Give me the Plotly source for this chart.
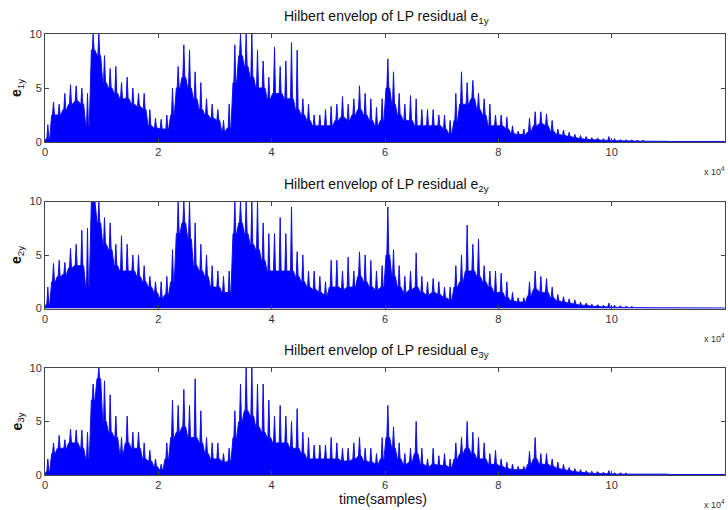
import plotly.graph_objects as go

# 1000-sample bins
bin_size = 1000
n_bins = 120
bin_centers = [i * bin_size + bin_size / 2 for i in range(n_bins)]

# ---- e1y ----
e1_peak = [1.6, 3.7, 3.5, 4.5, 5.3, 5.2, 5.0, 4.5, 10, 10,
           8.0, 6.8, 7.0, 5.5, 6.0, 5.0, 4.5, 4.5, 3.0, 2.2,
           2.1, 2.5, 5.0, 7.0, 9.0, 8.5, 6.5, 5.5, 4.0, 3.5,
           3.0, 2.0, 3.5, 9.0, 10, 10, 10, 8.5, 7.5, 6.0,
           8.8, 7.0, 7.5, 9.2, 8.5, 4.0, 3.5, 2.5, 2.5, 3.0,
           3.3, 3.5, 4.2, 3.5, 4.0, 5.2, 4.5, 4.0, 3.2, 4.0,
           7.7, 6.5, 4.5, 3.5, 4.3, 4.0, 3.0, 3.0, 3.0, 2.5,
           2.5, 2.0, 4.5, 6.5, 5.5, 5.7, 4.5, 4.0, 3.5, 2.5,
           2.5, 2.3, 1.5, 1.0, 1.2, 2.2, 2.8, 2.8, 2.6, 2.0,
           1.2, 1.1, 0.9, 0.7, 0.6, 0.5, 0.4, 0.35, 0.3, 0.5,
           0.3, 0.2, 0.2, 0.18, 0.15, 0.15, 0.12, 0.12, 0.1, 0.1,
           0.1, 0.1, 0.1, 0.1, 0.1, 0.08, 0.08, 0.08, 0.08, 0.08]
e1_body = [0.3, 2.5, 2.5, 3.0, 3.5, 3.8, 3.5, 1.5, 8.5, 8.0,
           5.5, 5.0, 4.5, 4.0, 4.0, 3.5, 3.3, 3.0, 1.5, 1.3,
           1.2, 1.2, 2.5, 5.0, 6.0, 5.0, 4.0, 3.0, 2.5, 2.2,
           2.0, 1.0, 1.3, 5.5, 8.0, 7.0, 6.0, 5.0, 5.0, 4.0,
           4.5, 4.5, 4.0, 4.0, 3.0, 2.5, 2.0, 1.5, 1.5, 1.5,
           1.5, 2.0, 2.3, 2.0, 2.5, 3.0, 2.5, 2.0, 1.5, 2.0,
           5.0, 3.5, 2.5, 2.0, 2.0, 1.5, 1.5, 1.5, 1.5, 1.5,
           1.2, 0.8, 2.0, 3.5, 3.5, 4.0, 3.0, 2.5, 1.5, 1.5,
           1.5, 1.2, 0.8, 0.7, 0.7, 1.0, 1.5, 1.7, 1.5, 1.0,
           0.7, 0.6, 0.5, 0.4, 0.3, 0.25, 0.2, 0.2, 0.15, 0.15,
           0.12, 0.1, 0.1, 0.1, 0.08, 0.08, 0.07, 0.07, 0.06, 0.06,
           0.05, 0.05, 0.05, 0.05, 0.05, 0.05, 0.05, 0.05, 0.05, 0.05]

# ---- e2y ----
e2_peak = [2.0, 4.2, 4.5, 4.3, 5.6, 6.0, 7.3, 7.5, 10, 10,
           8.5, 8.0, 6.0, 6.8, 6.0, 5.0, 5.0, 4.0, 3.0, 2.5,
           2.5, 3.0, 5.5, 10, 10, 10, 8.0, 6.0, 5.0, 4.0,
           3.5, 3.0, 3.5, 10, 10, 10, 10, 10, 8.0, 7.0,
           7.0, 8.5, 7.0, 9.5, 5.3, 5.0, 3.5, 3.5, 3.0, 2.5,
           4.5, 4.5, 3.5, 4.8, 3.5, 5.3, 5.0, 4.5, 3.5, 4.0,
           9.5, 5.5, 4.0, 3.0, 3.5, 5.2, 3.0, 2.5, 2.8, 2.5,
           2.0, 2.0, 4.0, 5.0, 7.8, 6.0, 6.5, 4.0, 3.5, 3.5,
           3.3, 2.5, 1.5, 1.0, 1.0, 2.5, 3.5, 3.0, 2.8, 2.0,
           1.3, 1.1, 0.9, 0.8, 0.6, 0.5, 0.4, 0.35, 0.3, 0.5,
           0.3, 0.25, 0.2, 0.18, 0.15, 0.15, 0.12, 0.12, 0.1, 0.1,
           0.1, 0.1, 0.1, 0.1, 0.1, 0.08, 0.08, 0.08, 0.08, 0.08]
e2_body = [0.4, 2.5, 3.0, 3.2, 3.8, 4.0, 4.0, 2.0, 10, 8.0,
           6.0, 5.5, 4.0, 3.5, 3.5, 3.5, 3.0, 2.5, 2.0, 1.5,
           1.0, 1.3, 2.5, 7.0, 8.0, 6.5, 4.0, 3.5, 3.0, 2.0,
           2.0, 1.5, 1.5, 7.0, 8.0, 7.0, 6.0, 5.5, 4.5, 3.5,
           3.5, 3.5, 3.5, 3.5, 3.0, 2.5, 2.0, 1.8, 1.5, 1.2,
           2.0, 2.0, 1.8, 2.0, 2.0, 3.0, 2.5, 2.0, 1.8, 2.0,
           5.0, 3.0, 2.0, 1.5, 1.8, 2.0, 1.5, 1.3, 1.5, 1.3,
           1.0, 0.8, 2.0, 2.5, 3.5, 3.5, 3.0, 2.5, 2.0, 1.5,
           1.5, 1.0, 0.7, 0.6, 0.6, 1.2, 1.8, 1.5, 1.5, 1.0,
           0.7, 0.6, 0.5, 0.4, 0.3, 0.3, 0.2, 0.2, 0.15, 0.15,
           0.12, 0.1, 0.1, 0.1, 0.08, 0.08, 0.07, 0.07, 0.06, 0.06,
           0.05, 0.05, 0.05, 0.05, 0.05, 0.05, 0.05, 0.05, 0.05, 0.05]

# ---- e3y ----
e3_peak = [1.5, 3.0, 3.7, 3.3, 4.3, 4.2, 4.2, 4.0, 8.5, 10,
           8.8, 7.5, 5.5, 3.5, 5.5, 4.0, 4.0, 3.0, 2.3, 1.5,
           1.0, 3.0, 7.0, 6.5, 8.0, 6.5, 9.0, 6.0, 3.5, 3.0,
           3.0, 2.0, 2.5, 6.0, 8.5, 10, 10, 8.5, 8.5, 7.0,
           5.5, 6.5, 5.5, 5.0, 6.2, 4.0, 3.5, 2.8, 2.8, 2.8,
           3.5, 3.0, 2.5, 2.5, 3.0, 3.5, 2.5, 2.5, 2.0, 3.5,
           6.5, 4.5, 3.0, 2.0, 2.5, 5.0, 2.5, 1.5, 2.5, 1.8,
           2.0, 1.5, 3.0, 3.5, 5.0, 4.0, 3.5, 3.0, 2.0, 2.3,
           1.5, 1.2, 1.0, 0.8, 0.8, 2.2, 3.5, 2.0, 2.0, 1.5,
           1.2, 1.0, 0.7, 0.6, 0.5, 0.4, 0.35, 0.3, 0.25, 0.4,
           0.2, 0.2, 0.18, 0.15, 0.15, 0.12, 0.12, 0.1, 0.1, 0.1,
           0.08, 0.08, 0.08, 0.08, 0.08, 0.08, 0.08, 0.08, 0.08, 0.08]
e3_body = [0.3, 2.0, 2.5, 2.5, 3.0, 3.0, 2.5, 1.5, 7.0, 9.0,
           5.0, 4.0, 3.5, 2.0, 3.0, 2.5, 2.5, 1.5, 1.3, 0.8,
           0.5, 1.5, 3.5, 4.0, 4.5, 3.5, 3.5, 3.0, 2.0, 1.5,
           1.5, 1.2, 1.3, 3.5, 5.0, 6.0, 5.5, 4.5, 4.0, 3.5,
           3.0, 3.0, 3.0, 2.5, 2.5, 2.0, 1.5, 1.5, 1.5, 1.5,
           1.5, 1.5, 1.3, 1.3, 1.5, 1.8, 1.3, 1.2, 1.0, 1.5,
           3.5, 2.5, 1.5, 1.0, 1.2, 2.0, 1.0, 0.8, 1.0, 0.9,
           0.9, 0.7, 1.5, 2.0, 2.5, 2.0, 1.5, 1.5, 1.0, 1.0,
           0.8, 0.6, 0.5, 0.5, 0.5, 1.0, 1.5, 1.0, 1.0, 0.8,
           0.6, 0.5, 0.4, 0.3, 0.25, 0.2, 0.15, 0.15, 0.12, 0.12,
           0.08, 0.08, 0.08, 0.08, 0.08, 0.08, 0.08, 0.08, 0.08, 0.08,
           0.05, 0.05, 0.05, 0.05, 0.05, 0.05, 0.05, 0.05, 0.05, 0.05]

x_tickvals = [0, 20000, 40000, 60000, 80000, 100000, 120000]
x_ticktext = ["0", "2", "4", "6", "8", "10", "12"]
y_tickvals = [0, 5, 10]
titles = ["Hilbert envelop of LP residual e<sub>1y</sub>",
          "Hilbert envelop of LP residual e<sub>2y</sub>",
          "Hilbert envelop of LP residual e<sub>3y</sub>"]
ylabels = ["<b>e</b><sub>1y</sub>", "<b>e</b><sub>2y</sub>", "<b>e</b><sub>3y</sub>"]

series = [(e1_peak, e1_body), (e2_peak, e2_body), (e3_peak, e3_body)]


def envelope_path(peak, body, half=170, shoulder=320):
    """Trace through each bin: body level, a sharp spike to the bin's peak, back to body."""
    xs, ys = [0], [0]
    for c, p, b in zip(bin_centers, peak, body):
        xs += [c - shoulder, c - half, c, c + half, c + shoulder]
        ys += [b, b, p, b, b]
    xs.append(n_bins * bin_size)
    ys.append(0)
    return xs, ys


W, H = 728, 510
ml, mr, mt, mb = 45, 3, 34, 35
ph = H - mt - mb
pw = W - ml - mr
panels_px = [(34, 142), (201.5, 308.5), (368, 475)]


def py(p):
    return (H - mb - p) / ph


def px(p):
    return (p - ml) / pw


BLUE = "#0000ff"
FONT = "Liberation Sans, Arial"
fig = go.Figure()
annotations = []
for i, (peak, body) in enumerate(series):
    xa = "x" if i == 0 else f"x{i+1}"
    ya = "y" if i == 0 else f"y{i+1}"
    xs, ys = envelope_path(peak, body)
    fig.add_trace(go.Scatter(x=xs, y=ys, mode="lines", fill="tozeroy", fillcolor=BLUE,
                             line=dict(color="#1010e8", width=1), xaxis=xa, yaxis=ya,
                             showlegend=False, hoverinfo="skip", cliponaxis=True))
    top, bot = panels_px[i]
    axis_common = dict(showline=True, linecolor="#444", linewidth=1, mirror="ticks",
                       ticks="inside", ticklen=4, tickcolor="#444", showgrid=False, zeroline=False,
                       tickfont=dict(family=FONT, size=11, color="#333"))
    xkey = "xaxis" if i == 0 else f"xaxis{i+1}"
    ykey = "yaxis" if i == 0 else f"yaxis{i+1}"
    fig.update_layout({
        xkey: dict(domain=[0, 1], range=[0, 120000], tickvals=x_tickvals, ticktext=x_ticktext,
                   anchor=ya, **axis_common),
        ykey: dict(domain=[py(bot), py(top)], range=[0, 10], tickvals=y_tickvals,
                   anchor=xa, **axis_common),
    })
    annotations.append(dict(text=titles[i], xref="paper", yref="paper", x=px(386), y=py(top - 17),
                            xanchor="center", yanchor="middle", showarrow=False,
                            font=dict(family=FONT, size=14, color="#111")))
    annotations.append(dict(text=ylabels[i], xref="paper", yref="paper", x=px(17), y=py((top + bot) / 2),
                            xanchor="center", yanchor="middle", textangle=-90, showarrow=False,
                            font=dict(family=FONT, size=14, color="#111")))
    annotations.append(dict(text="x 10<sup>4</sup>", xref="paper", yref="paper", x=px(727), y=py(bot + 29),
                            xanchor="right", yanchor="middle", showarrow=False,
                            font=dict(family=FONT, size=9, color="#333")))

annotations.append(dict(text="time(samples)", xref="paper", yref="paper", x=px(383), y=py(499),
                        xanchor="center", yanchor="middle", showarrow=False,
                        font=dict(family=FONT, size=14, color="#111")))

fig.update_layout(width=W, height=H, margin=dict(l=ml, r=mr, t=mt, b=mb),
                  paper_bgcolor="white", plot_bgcolor="white",
                  annotations=annotations, showlegend=False)

fig.write_html("out.html")
